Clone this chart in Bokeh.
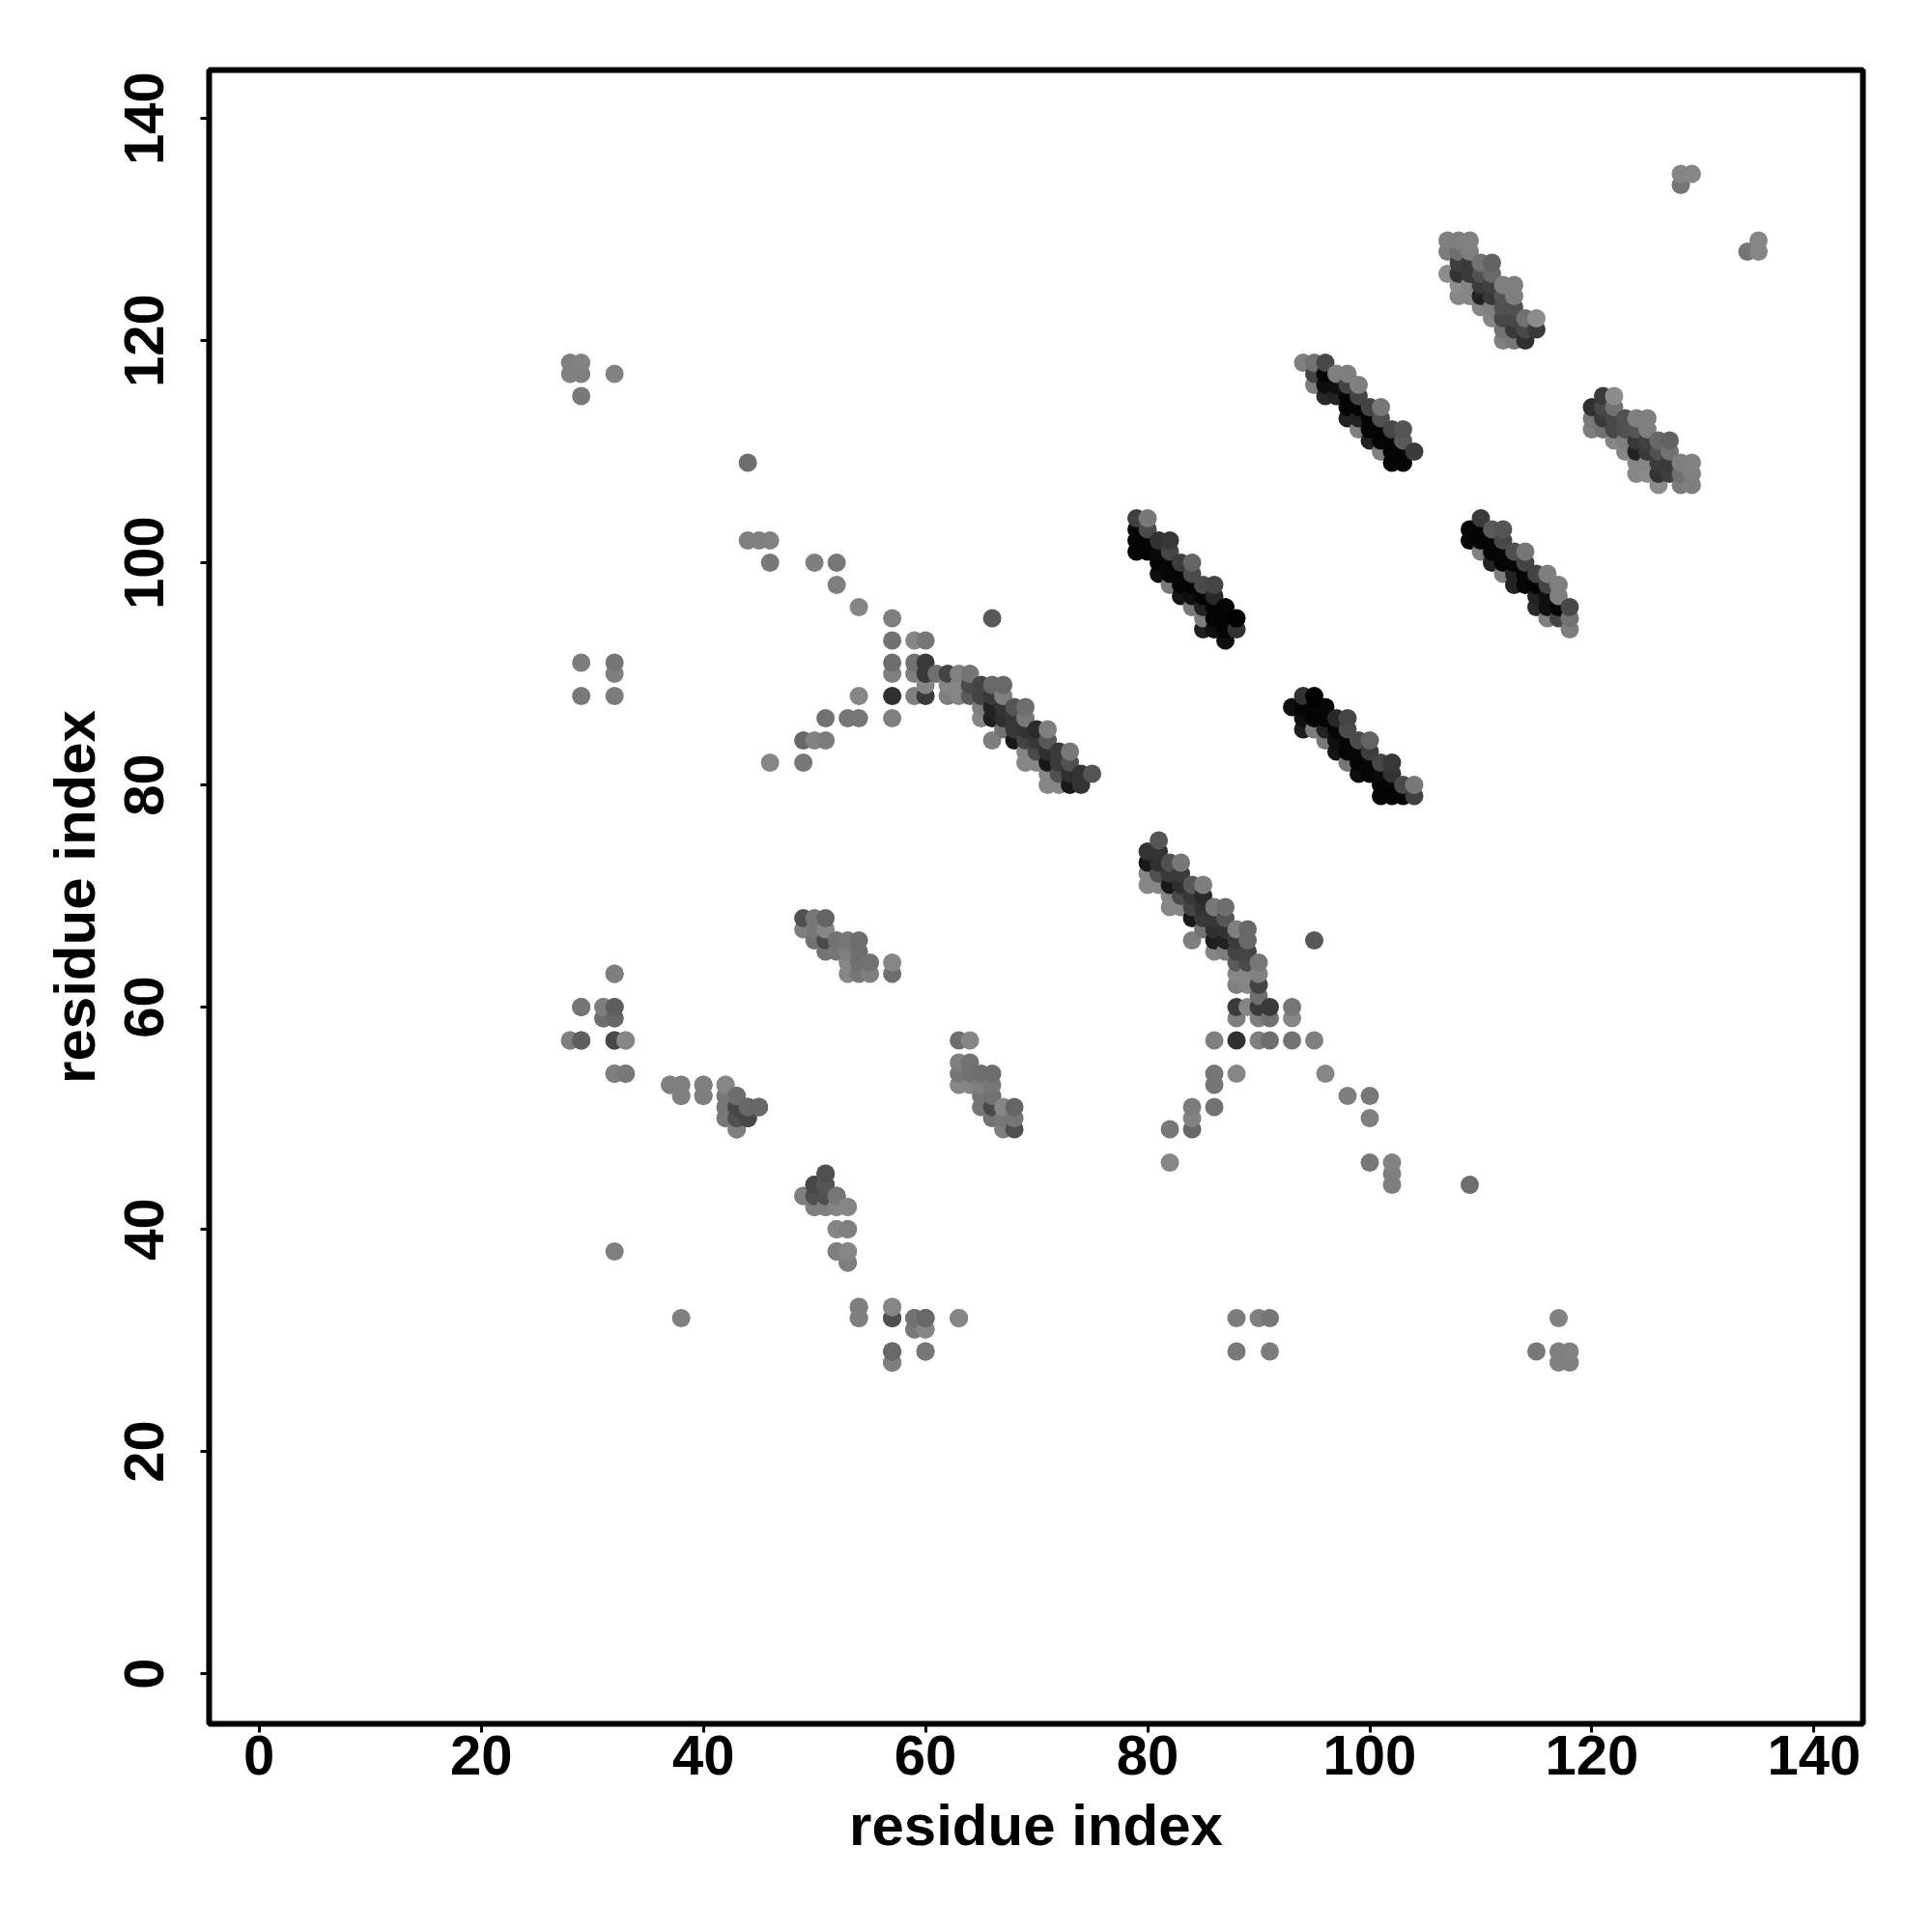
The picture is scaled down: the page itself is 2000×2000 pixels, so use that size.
from bokeh.plotting import figure
from bokeh.models import ColumnDataSource, FixedTicker, Range1d
from bokeh.embed import file_html
from bokeh.resources import INLINE

# The contact map is symmetric: each (i, j, grey) below is read off the picture
# and is shown at both (i, j) and (j, i).
tick_values = [0, 20, 40, 60, 80, 100, 120, 140]
axis_title = "residue index"

strand_79_88 = [
 (79,104,64),(80,104,120),(79,103,5),(80,103,75),(79,102,5),(80,102,5),(81,102,50),(82,102,55),
 (79,101,5),(80,101,5),(81,101,10),(82,101,70),(81,100,5),(82,100,5),(83,100,60),(84,100,100),
 (81,99,15),(82,99,5),(83,99,5),(84,99,75),(82,98,120),(83,98,5),(84,98,5),(85,98,75),(86,98,70),
 (83,97,20),(84,97,15),(85,97,5),(86,97,40),(84,96,120),(85,96,35),(86,96,5),(87,96,5),
 (85,95,125),(86,95,5),(87,95,5),(88,95,0),(85,94,30),(86,94,15),(87,94,5),(88,94,50),(87,93,15),
]
strand_94_104 = [
 (94,118,127),(95,118,114),(96,118,72),(95,117,68),(96,117,5),(97,117,127),(98,117,127),
 (95,116,127),(96,116,15),(97,116,15),(98,116,68),(99,116,127),
 (96,115,42),(97,115,34),(98,115,5),(99,115,68),(98,114,5),(99,114,5),(100,114,68),(101,114,118),
 (98,113,34),(99,113,34),(100,113,5),(101,113,80),(99,112,127),(100,112,5),(101,112,5),(102,112,72),(103,112,85),
 (100,111,34),(101,111,5),(102,111,5),(103,111,90),(101,110,127),(102,110,5),(103,110,5),(104,110,58),
 (102,109,5),(103,109,5),
]
strand_107_115 = [
 (107,129,127),(108,129,127),(109,129,130),(107,128,124),(108,128,112),(109,128,127),
 (108,127,63),(109,127,58),(110,127,114),(111,127,98),
 (107,126,140),(108,126,51),(109,126,58),(110,126,80),(111,126,104),
 (108,125,140),(109,125,134),(110,125,58),(111,125,64),(112,125,127),(113,125,127),
 (108,124,134),(109,124,134),(110,124,34),(111,124,56),(112,124,85),(113,124,127),
 (110,123,134),(111,123,127),(112,123,80),(113,123,80),
 (111,122,134),(112,122,72),(113,122,72),(114,122,114),(115,122,140),
 (112,121,114),(113,121,58),(114,121,72),(115,121,58),
 (112,120,127),(113,120,120),(114,120,47),
]
corner_128 = [(128,135,134),(129,135,134),(128,134,118)]
strand_60_75 = [
 (57,95,127),(66,95,88),(57,93,114),(59,93,134),(60,93,118),(57,91,110),(59,91,114),(60,91,58),
 (57,90,127),(59,90,127),(60,90,58),(61,90,110),(62,90,68),(63,90,130),(64,90,118),
 (60,89,134),(62,89,134),(63,89,134),(64,89,74),(65,89,68),(66,89,104),(67,89,104),
 (54,88,134),(57,88,48),(59,88,127),(60,88,58),(62,88,127),(63,88,134),(64,88,90),(65,88,68),(66,88,58),(67,88,127),
 (65,87,127),(66,87,34),(67,87,51),(68,87,85),(69,87,110),
 (53,86,118),(54,86,118),(57,86,127),(65,86,134),(66,86,31),(67,86,47),(68,86,56),(69,86,120),
 (67,85,114),(68,85,56),(69,85,51),(70,85,42),(71,85,127),
 (66,84,127),(68,84,24),(69,84,68),(70,84,56),(71,84,88),
 (69,83,134),(70,83,74),(71,83,47),(72,83,58),(73,83,120),
 (69,82,134),(70,82,134),(71,82,24),(72,82,58),(73,82,80),
 (71,81,134),(72,81,80),(73,81,47),(74,81,51),(75,81,85),
 (71,80,134),(72,80,134),(73,80,24),(74,80,51),
]
patch_49_57 = [
 (49,68,80),(50,68,118),(51,68,100),(49,67,127),(50,67,120),(51,67,134),
 (50,66,114),(51,66,74),(52,66,114),(53,66,118),(54,66,110),
 (51,65,118),(52,65,118),(53,65,127),(54,65,110),
 (53,64,134),(54,64,114),(55,64,114),(57,64,134),(53,63,134),(54,63,118),(55,63,127),(57,63,110),
]
patch_28_45 = [
 (32,63,134),(29,60,118),(31,60,134),(32,60,104),(31,59,120),(32,59,114),
 (28,57,127),(29,57,104),(32,57,80),(33,57,134),(32,54,127),(33,54,127),
 (37,53,127),(38,53,134),(38,52,127),(40,53,127),(40,52,134),(42,53,134),(42,52,134),(43,52,118),
 (42,51,127),(43,51,80),(44,51,85),(45,51,80),(42,50,127),(43,50,80),(44,50,72),(43,49,127),
]
patch_49_63 = [
 (51,45,104),(50,44,72),(51,44,104),(49,43,127),(50,43,80),(51,43,72),(52,43,110),
 (50,42,120),(51,42,118),(52,42,120),(53,42,134),(52,40,127),(53,40,127),
 (52,38,127),(53,38,127),(53,37,127),(54,33,120),(54,32,127),
 (57,33,134),(57,32,72),(59,32,104),(60,32,94),(59,31,110),(60,31,127),(63,32,127),
 (57,29,94),(60,29,118),(57,28,127),(38,32,127),
]
scattered = [
 (28,118,127),(29,118,130),(28,117,130),(29,117,127),(32,117,130),(29,115,120),
 (44,109,110),(44,102,127),(45,102,127),(46,102,130),(46,100,120),
 (50,100,127),(52,100,120),(52,98,127),(54,96,134),
 (29,91,124),(32,91,118),(32,90,127),(29,88,120),(32,88,124),
 (46,82,134),(49,82,120),(49,84,104),(50,84,130),(51,84,124),(51,86,114),
]

half = (strand_79_88 + strand_94_104 + strand_107_115 + corner_128 + strand_60_75
        + patch_49_57 + patch_28_45 + patch_49_63 + scattered)
both = [(i, j, g) for i, j, g in half] + [(j, i, g) for i, j, g in half]
both.sort(key=lambda t: (t[0], t[1]))

src = ColumnDataSource(dict(
    x=[t[0] for t in both],
    y=[t[1] for t in both],
    c=["#%02x%02x%02x" % (t[2], t[2], t[2]) for t in both],
))

p = figure(width=1992, height=1992, output_backend="svg", toolbar_location=None,
           x_range=Range1d(-4.5, 144.4), y_range=Range1d(-4.52, 144.35),
           min_border_left=216, min_border_right=64, min_border_top=72, min_border_bottom=208,
           background_fill_color="white", border_fill_color="white")
p.grid.visible = False
p.outline_line_color = "black"
p.outline_line_width = 6

p.scatter("x", "y", source=src, size=19, fill_color="c", line_color=None, marker="circle")

for ax in (p.xaxis[0], p.yaxis[0]):
    ax.ticker = FixedTicker(ticks=tick_values)
    ax.minor_tick_line_color = None
    ax.major_tick_in = 0
    ax.major_tick_out = 9
    ax.major_tick_line_width = 3
    ax.major_tick_line_color = "black"
    ax.axis_line_color = None
    ax.axis_label = axis_title
    ax.axis_label_text_font = "Liberation Sans"
    ax.axis_label_text_font_style = "bold"
    ax.axis_label_text_font_size = "60px"
    ax.axis_label_text_color = "black"
    ax.major_label_text_font = "Liberation Sans"
    ax.major_label_text_font_style = "bold"
    ax.major_label_text_font_size = "58px"
    ax.major_label_text_color = "black"

p.xaxis[0].major_label_standoff = 3
p.xaxis[0].axis_label_standoff = 16
p.yaxis[0].major_label_orientation = "vertical"
p.yaxis[0].major_label_standoff = 38
p.yaxis[0].axis_label_standoff = 16

open("out.html", "w").write(file_html(p, INLINE))
